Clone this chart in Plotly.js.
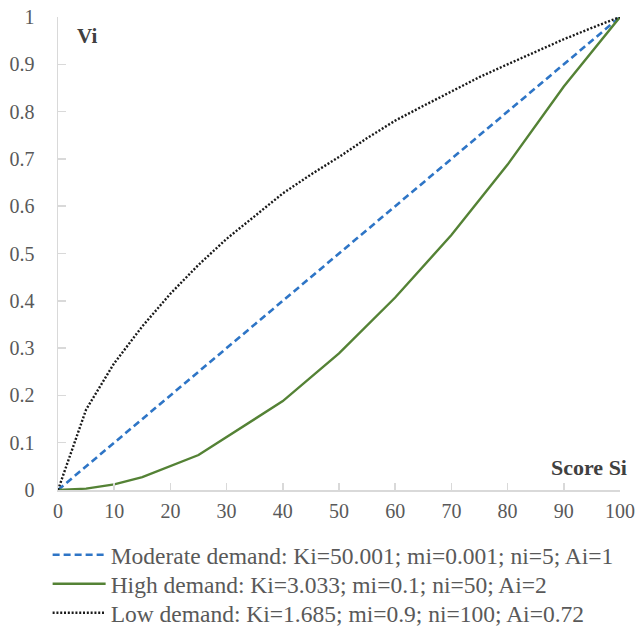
<!DOCTYPE html>
<html>
<head>
<meta charset="utf-8">
<script src="https://cdn.plot.ly/plotly-3.0.1.min.js"></script>
<style>html,body{margin:0;padding:0;background:#fff;}#chart{width:635px;height:629px;}</style>
</head>
<body>
<div id="chart"></div>
<script>
// Data
const moderateX = [0, 10, 20, 30, 40, 50, 60, 70, 80, 90, 100];
const moderateY = [0, 0.1, 0.2, 0.3, 0.4, 0.5, 0.6, 0.7, 0.8, 0.9, 1.0];

const highX = [0, 5, 10, 15, 25, 40, 50, 60, 70, 80, 90, 100];
const highY = [0, 0.003, 0.012, 0.027, 0.074, 0.188, 0.289, 0.407, 0.539, 0.688, 0.853, 1.0];

const lowX = [0, 5, 10, 15, 20, 25, 30, 35, 40, 45, 50, 55, 60, 65, 70, 75, 80, 85, 90, 95, 100];
const lowY = [0, 0.17, 0.268, 0.346, 0.415, 0.476, 0.531, 0.58, 0.627, 0.667, 0.704, 0.744, 0.781, 0.812, 0.843, 0.873, 0.9, 0.927, 0.953, 0.977, 1.0];

const seriesNames = [
  "Moderate demand: Ki=50.001; mi=0.001; ni=5; Ai=1",
  "High demand: Ki=3.033; mi=0.1; ni=50; Ai=2",
  "Low demand: Ki=1.685; mi=0.9; ni=100; Ai=0.72"
];
const xTicks = [0, 10, 20, 30, 40, 50, 60, 70, 80, 90, 100];
const yTicks = [0, 0.1, 0.2, 0.3, 0.4, 0.5, 0.6, 0.7, 0.8, 0.9, 1];
const yTickText = ["0", "0.1", "0.2", "0.3", "0.4", "0.5", "0.6", "0.7", "0.8", "0.9", "1"];

const serif = "'Liberation Serif', 'Times New Roman', 'DejaVu Serif', serif";
const gray = "#595959";
const axisCol = "#d9d9d9";

const traces = [
  {x: moderateX, y: moderateY, name: seriesNames[0], mode: "lines", legend: "legend",
   line: {color: "#2e75c6", width: 2.6, dash: "7px,4px"}},
  {x: highX, y: highY, name: seriesNames[1], mode: "lines", legend: "legend2",
   line: {color: "#548235", width: 2.4}},
  {x: lowX, y: lowY, name: seriesNames[2], mode: "lines", legend: "legend3",
   line: {color: "#1a1a1a", width: 2.4, dash: "2px,1.8px"}}
];

function legendAt(yCenter) {
  return {
    orientation: "v", x: 0.075, xref: "container", xanchor: "left",
    y: yCenter, yref: "container", yanchor: "middle",
    font: {family: serif, size: 23.5, color: gray},
    itemwidth: 53, bgcolor: "rgba(0,0,0,0)", borderwidth: 0
  };
}

const layout = {
  width: 635, height: 629,
  margin: {l: 58, r: 15, t: 17, b: 139, autoexpand: false},
  paper_bgcolor: "#fff", plot_bgcolor: "#fff",
  font: {family: serif, size: 20, color: gray},
  showlegend: true,
  legend: legendAt(1 - 555 / 629),
  legend2: legendAt(1 - 584 / 629),
  legend3: legendAt(1 - 613 / 629),
  xaxis: {
    range: [0, 100], tickvals: xTicks, ticktext: xTicks.map(String),
    showgrid: false, zeroline: false,
    showline: true, linecolor: axisCol, linewidth: 1.5,
    ticks: "inside", ticklen: 7, tickcolor: axisCol, tickwidth: 1.5,
    ticklabelstandoff: 2,
    tickfont: {family: serif, size: 20, color: gray}, fixedrange: true
  },
  yaxis: {
    range: [0, 1], tickvals: yTicks, ticktext: yTickText,
    showgrid: false, zeroline: false,
    showline: true, linecolor: axisCol, linewidth: 1.5,
    ticks: "inside", ticklen: 8, tickcolor: axisCol, tickwidth: 1.5,
    ticklabelstandoff: 18,
    tickfont: {family: serif, size: 20, color: gray}, fixedrange: true
  },
  annotations: [
    {text: "<b>Vi</b>", xref: "paper", yref: "paper", x: 0.031, y: 0.96, xanchor: "left", yanchor: "middle",
     showarrow: false, font: {family: serif, size: 21, color: "#404040"}},
    {text: "<b>Score Si</b>", xref: "paper", yref: "paper", x: 1.016, y: 0.047, xanchor: "right", yanchor: "middle",
     showarrow: false, font: {family: serif, size: 22, color: "#404040"}}
  ]
};

Plotly.newPlot("chart", traces, layout, {displayModeBar: false, staticPlot: true});
</script>
</body>
</html>
